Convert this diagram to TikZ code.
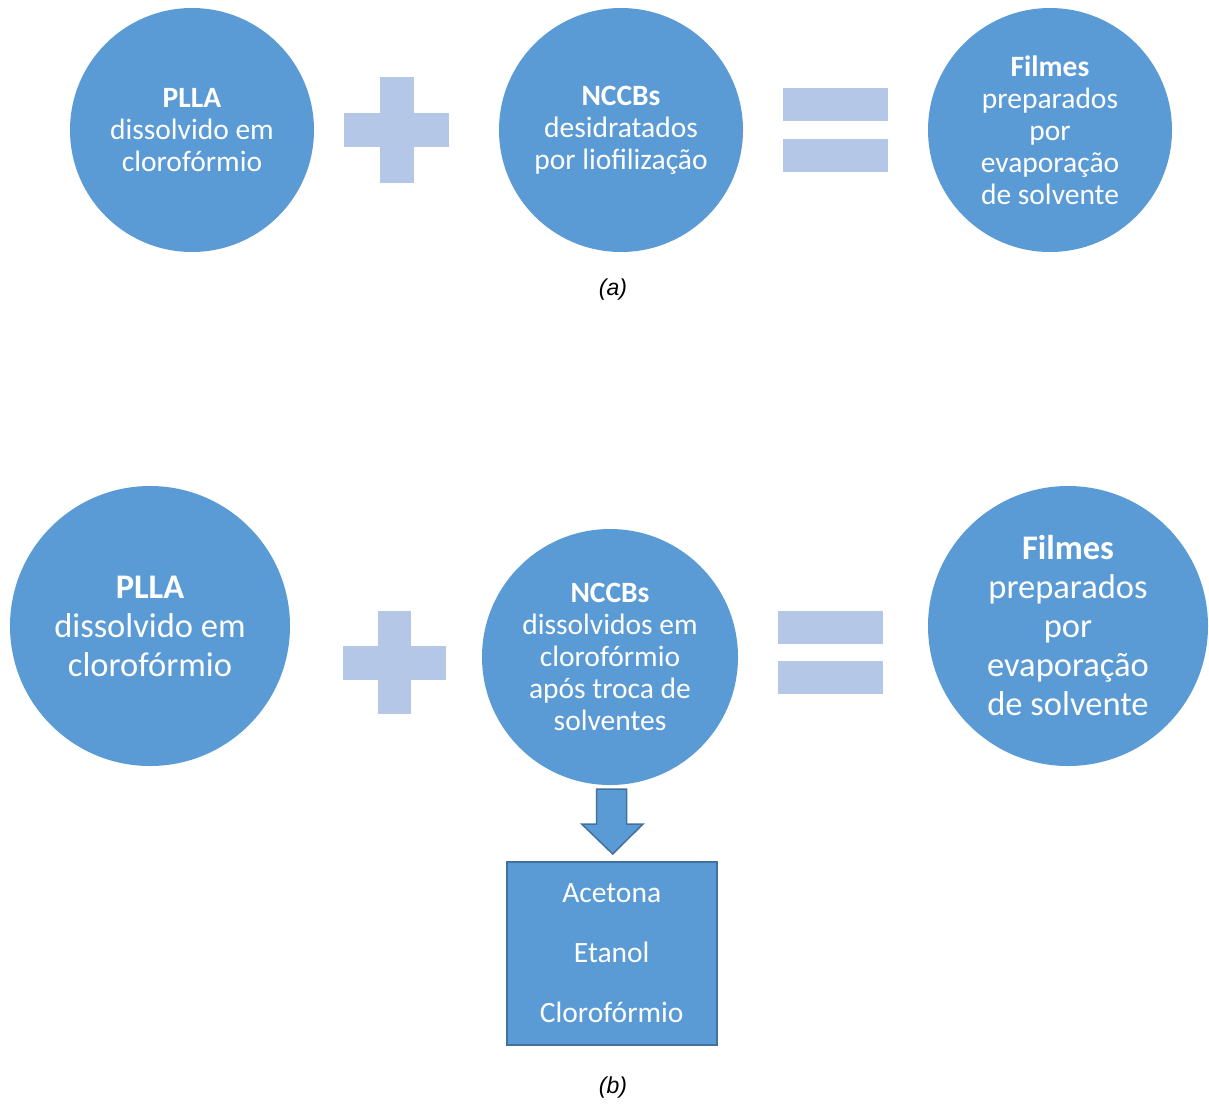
\documentclass[tikz,border=0pt]{standalone}
\usepackage{fontspec}
\setmainfont{Carlito}
\newfontfamily\labfont{Liberation Sans}
\definecolor{cblue}{HTML}{5B9BD5}
\definecolor{cdark}{HTML}{41719C}
\definecolor{clight}{HTML}{B4C7E7}
\begin{document}
\begin{tikzpicture}[x=1pt,y=-1pt,
  circ/.style={circle,fill=cblue,draw=none,inner sep=0pt,text=white,align=center},
  opbar/.style={fill=clight,draw=none},
  lab/.style={font=\labfont\itshape\fontsize{23}{27}\selectfont}]
\useasboundingbox (0,0) rectangle (1209,1104);
% ---- (a) ----
\node[circ,minimum size=244pt,font=\fontsize{29.5}{32}\selectfont] (a1) at (192,130) {\textbf{PLLA}\\dissolvido em\\clorofórmio};
\node[circ,minimum size=244pt,font=\fontsize{29.5}{32}\selectfont] (a2) at (621,130) {\textbf{NCCBs}\\desidratados\\por liofilização};
\node[circ,minimum size=244pt,font=\fontsize{29.5}{32}\selectfont] (a3) at (1050,130) {\textbf{Filmes}\\preparados\\por\\evaporação\\de solvente};
\fill[opbar] (380,77) rectangle (414,183);
\fill[opbar] (344,113) rectangle (449,147);
\fill[opbar] (783,88) rectangle (888,121);
\fill[opbar] (783,139) rectangle (888,172);
\node[lab] (la) at (613,290) {(a)};
% ---- (b) ----
\node[circ,minimum size=280pt,font=\fontsize{34.5}{39}\selectfont] (b1) at (150,626) {\textbf{PLLA}\\dissolvido em\\clorofórmio};
\node[circ,minimum size=256pt,font=\fontsize{29.5}{32}\selectfont] (b2) at (610,657) {\textbf{NCCBs}\\dissolvidos em\\clorofórmio\\após troca de\\solventes};
\node[circ,minimum size=280pt,font=\fontsize{34.5}{39}\selectfont] (b3) at (1068,626) {\textbf{Filmes}\\preparados\\por\\evaporação\\de solvente};
\fill[opbar] (378,611) rectangle (411,714);
\fill[opbar] (343,646) rectangle (446,680);
\fill[opbar] (778,611) rectangle (883,644);
\fill[opbar] (778,661) rectangle (883,694);
\node[draw=cdark,line width=2pt,fill=cblue,text=white,minimum width=210pt,minimum height=183pt,align=center,
  font=\fontsize{29.5}{60}\selectfont] (box) at (611.7,953.3) {Acetona\\Etanol\\Clorofórmio};
\draw[draw=cdark,line width=1.5pt,fill=cblue,line join=miter]
  (596.7,789) -- (626.7,789) -- (626.7,824) -- (643,824) -- (612.7,854) -- (581.7,824) -- (596.7,824) -- cycle;
\node[lab] (lb) at (613,1088) {(b)};
\end{tikzpicture}
\end{document}
